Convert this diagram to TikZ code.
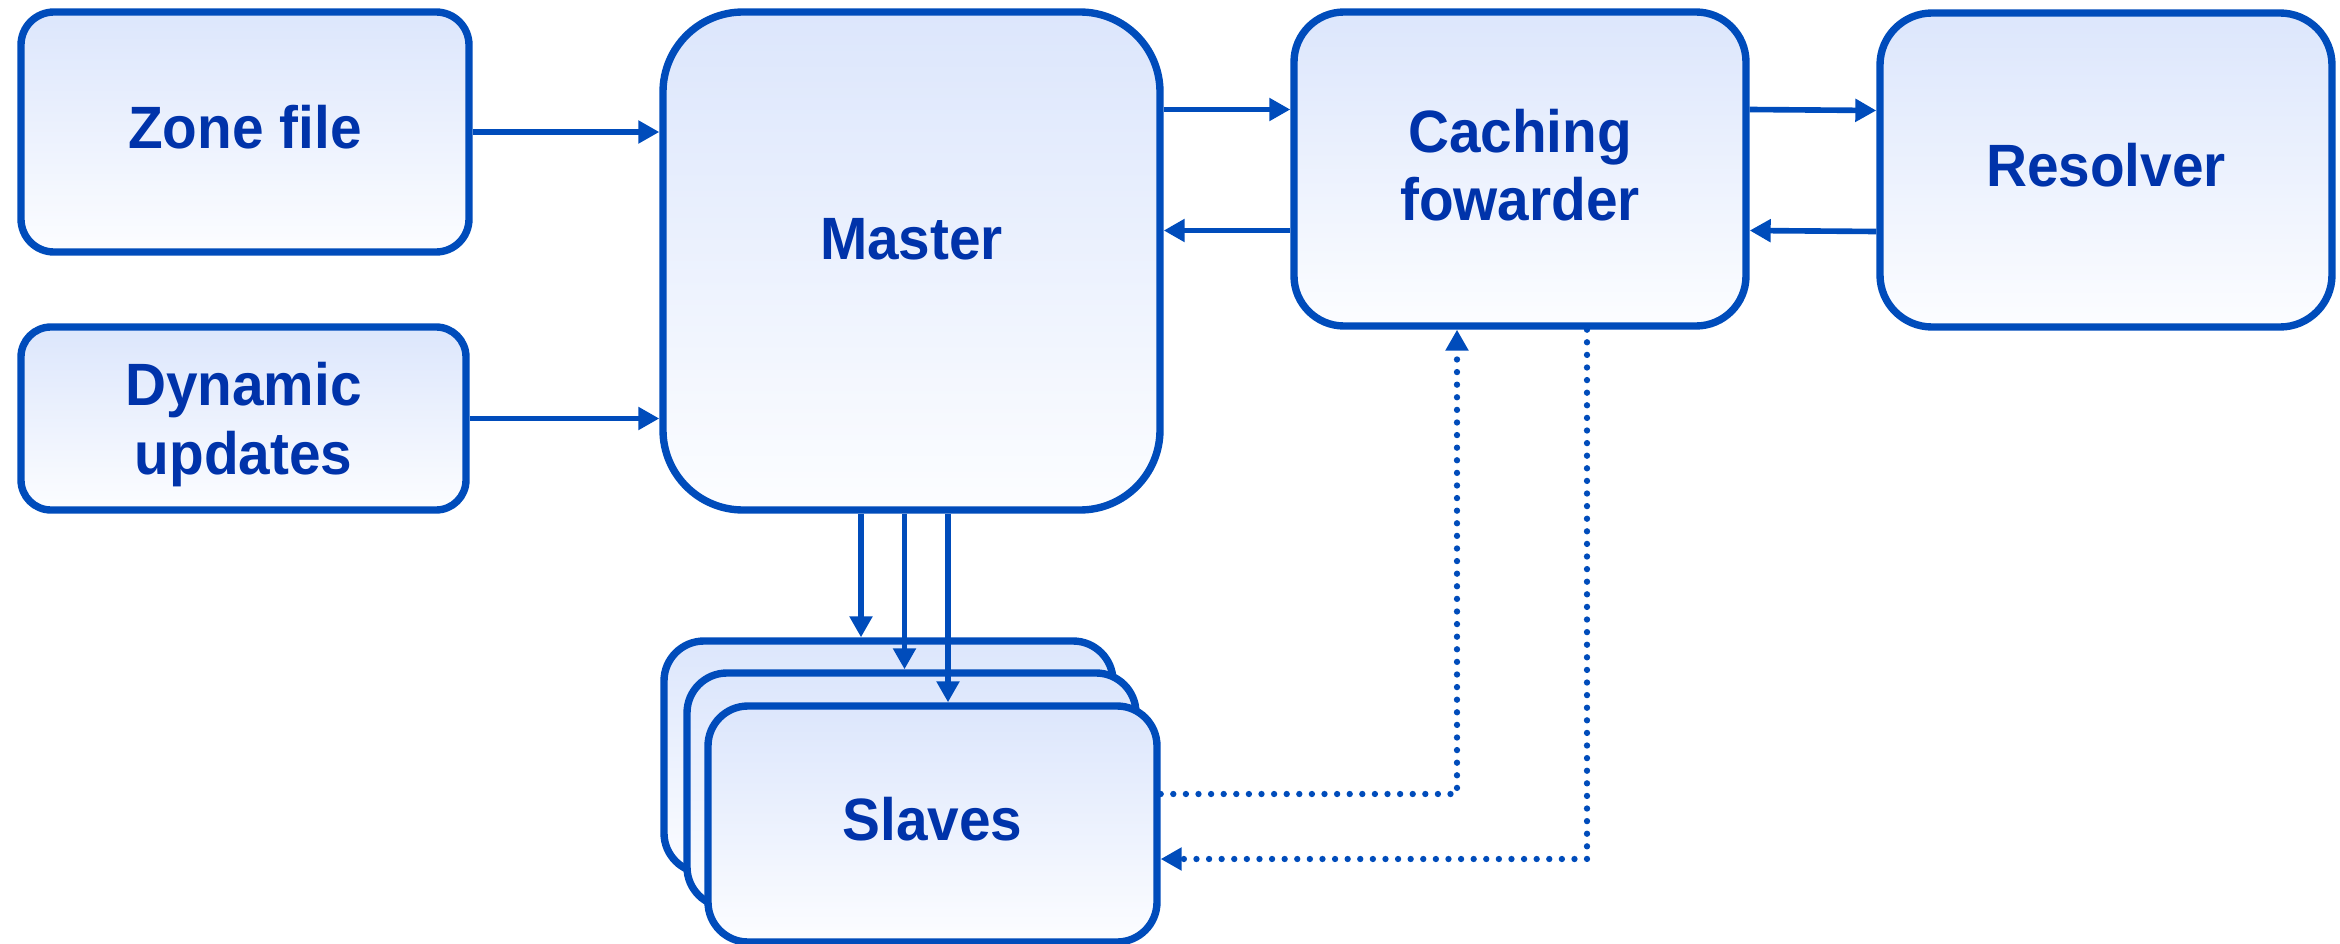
\documentclass[tikz,border=0pt]{standalone}
\usepackage{fontspec}
\setmainfont{Liberation Sans}[FakeStretch=0.95]
\usetikzlibrary{arrows.meta, positioning, calc}
\definecolor{edgeblue}{RGB}{0,76,187}
\definecolor{textblue}{RGB}{0,51,170}
\definecolor{filltop}{RGB}{220,230,252}
\definecolor{fillbot}{RGB}{252,253,255}

\begin{document}
\begin{tikzpicture}[
  box/.style={draw=edgeblue, line width=2.1pt, top color=filltop, bottom color=fillbot,
    text=textblue, font=\fontsize{17}{19.5}\selectfont\bfseries, align=center, inner sep=0pt,
    text depth=0.1cm},
  flow/.style={edgeblue, line width=1.6pt, -{Triangle[length=0.21cm, width=0.22cm]}},
  sync/.style={edgeblue, line width=1.8pt, line cap=round, dash pattern=on 0pt off 0.126cm},
]
  \useasboundingbox (0,0) rectangle (23.4,-9.44);

  % sources and servers
  \node[box, minimum width=4.48cm, minimum height=2.40cm, rounded corners=0.33cm] (zone) at (2.45,-1.32) {Zone file};
  \node[box, minimum width=4.45cm, minimum height=1.83cm, rounded corners=0.30cm, text depth=0cm] (dyn) at (2.435,-4.185) {Dynamic\\updates};
  \node[box, minimum width=4.97cm, minimum height=4.98cm, rounded corners=0.80cm, text depth=0.44cm] (master) at (9.115,-2.61) {Master};
  \node[box, minimum width=4.52cm, minimum height=3.14cm, rounded corners=0.50cm, text depth=0.08cm] (cache) at (15.20,-1.69) {Caching\\fowarder};
  \node[box, minimum width=4.52cm, minimum height=3.14cm, rounded corners=0.52cm] (resolver) at (21.06,-1.70) {Resolver};

  % stack of slaves
  \node[box, minimum width=4.49cm, minimum height=2.32cm, rounded corners=0.40cm] (back) at (8.885,-7.57) {};
  \node[box, minimum width=4.49cm, minimum height=2.34cm, rounded corners=0.40cm] (middle) at (9.115,-7.90) {};
  \node[box, minimum width=4.49cm, minimum height=2.36cm, rounded corners=0.40cm] (front) at (9.325,-8.24) {Slaves};

  % inputs
  \draw[flow] (zone.east) -- (zone.east -| master.west);
  \draw[flow] (dyn.east) -- (dyn.east -| master.west);

  % master <-> forwarder <-> resolver
  \coordinate (qa) at ($(cache.west)+(0,0.595)$);
  \coordinate (qb) at ($(cache.west)+(0,-0.615)$);
  \draw[flow] (qa -| master.east) -- (qa);
  \draw[flow] (qb) -- (qb -| master.east);
  \draw[flow] ($(cache.east)+(0,0.595)$) -- ($(resolver.west)+(0,0.595)$);
  \draw[flow] ($(resolver.west)+(0,-0.615)$) -- ($(cache.east)+(0,-0.615)$);

  % zone transfers
  \coordinate (m1) at ($(master.south)+(-0.505,0)$);
  \coordinate (m2) at ($(master.south)+(-0.07,0)$);
  \coordinate (m3) at ($(master.south)+(0.365,0)$);
  \draw[flow] (m1) -- (m1 |- back.north);
  \draw[flow] (m2) -- (m2 |- middle.north);
  \draw[flow] (m3) -- (m3 |- front.north);

  % slaves <-> forwarder
  \coordinate (s1) at ($(front.east)+(0,0.30)$);
  \coordinate (s2) at ($(front.east)+(0,-0.35)$);
  \coordinate (c1) at ($(cache.south)+(-0.63,0)$);
  \coordinate (c2) at ($(cache.south)+(0.67,0)$);
  \draw[sync, -{Triangle[length=0.21cm, width=0.22cm]}] (s1) -| (c1);
  \draw[sync, -{Triangle[length=0.21cm, width=0.22cm]}] (c2) |- (s2);
\end{tikzpicture}
\end{document}
